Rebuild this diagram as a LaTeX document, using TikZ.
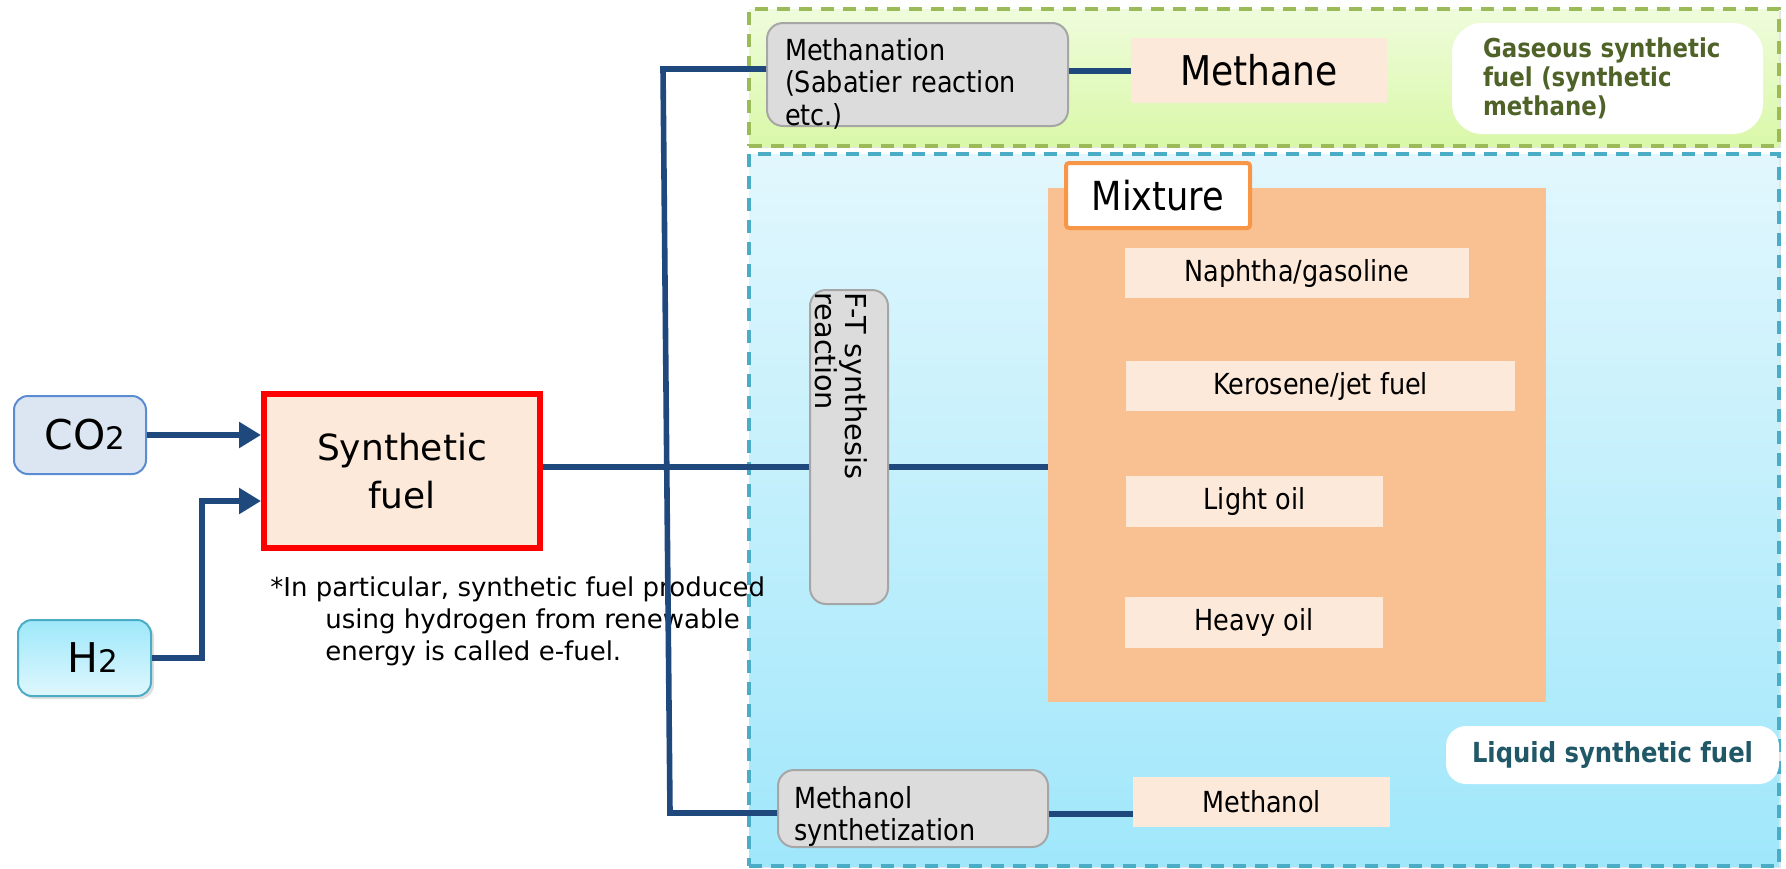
\documentclass[tikz,border=0pt]{standalone}
\usepackage{fontspec}
\setmainfont{DejaVu Sans}
\newfontfamily\cond{DejaVu Sans}[FakeStretch=0.88]
\usetikzlibrary{arrows.meta,shadows}
\definecolor{conn}{HTML}{1F497D}
\definecolor{cotwofill}{HTML}{DCE6F2}
\definecolor{cotwoline}{HTML}{5B8BD0}
\definecolor{htop}{HTML}{9EE8FA}
\definecolor{hbot}{HTML}{DFF7FD}
\definecolor{hline}{HTML}{4BACC6}
\definecolor{peach}{HTML}{FDE9D9}
\definecolor{mixbg}{HTML}{F9C091}
\definecolor{mixline}{HTML}{F79646}
\definecolor{procfill}{HTML}{DCDCDC}
\definecolor{procline}{HTML}{A6A6A6}
\definecolor{gline}{HTML}{9BBB59}
\definecolor{gtop}{HTML}{EFFCDC}
\definecolor{gbot}{HTML}{D9F8A8}
\definecolor{bline}{HTML}{4BACC6}
\definecolor{btop}{HTML}{E2F7FD}
\definecolor{bbot}{HTML}{A0E7FB}
\definecolor{gtext}{HTML}{4F6228}
\definecolor{btext}{HTML}{215868}
\tikzset{
  connector/.style={draw=conn, line width=2.8pt},
  arrowed/.style={connector, -{Triangle[length=11pt,width=12.5pt]}},
  region/.style={draw, dash pattern=on 6.5pt off 4.5pt, inner sep=0pt,
    drop shadow={opacity=0.2, shadow xshift=1.2pt, shadow yshift=-1.2pt}},
  procbox/.style={draw=procline, fill=procfill, line width=1pt, rounded corners=8pt, inner sep=0pt},
  proctext/.style={inner sep=0pt, align=left, font=\cond\fontsize{14.5}{16.25}\selectfont},
  product/.style={fill=peach, inner sep=0pt, font=\cond\fontsize{14.5}{16}\selectfont},
  labelbox/.style={fill=white, inner sep=0pt, font=\cond\bfseries\fontsize{13}{14.5}\selectfont},
}
\begin{document}
\begin{tikzpicture}[x=0.5pt,y=-0.5pt]
\useasboundingbox (0,0) rectangle (1786,868);
\fill[white] (0,0) rectangle (1786,868);

% regions
\node[region, draw=gline, line width=2pt, top color=gtop, bottom color=gbot,
  minimum width=515pt, minimum height=68.5pt] (gas) at (1264,77.5) {};
\node[region, draw=bline, line width=1.7pt, top color=btop, bottom color=bbot,
  minimum width=515pt, minimum height=356pt] (liq) at (1264,510) {};

% mixture
\node[fill=mixbg, inner sep=0pt, minimum width=249pt, minimum height=257pt] (mix) at (1297,445) {};
\node[draw=mixline, line width=2pt, fill=white, rounded corners=1.5pt, inner sep=0pt,
  minimum width=92pt, minimum height=32.5pt, font=\cond\fontsize{20}{22}\selectfont] (mixlabel) at (1158,195.5) {Mixture};
\node[product, minimum width=172pt, minimum height=25pt] (naph) at (1297,273) {Naphtha/gasoline};
\node[product, minimum width=194.5pt, minimum height=25pt] (kero) at (1320.5,386) {Kerosene/jet fuel};
\node[product, minimum width=128.5pt, minimum height=25.5pt] (light) at (1254.5,501.5) {Light oil};
\node[product, minimum width=129pt, minimum height=25.5pt] (heavy) at (1254,622.5) {Heavy oil};

% products
\node[product, minimum width=128pt, minimum height=32.5pt, font=\cond\fontsize{20.5}{22}\selectfont] (methane) at (1259,70.5) {Methane};
\node[product, minimum width=128.5pt, minimum height=25pt] (meoh) at (1261.5,802) {Methanol};

% labels
\node[labelbox, rounded corners=15pt, text=gtext, align=left, text width=124.5pt,
  minimum height=55.5pt, inner xsep=15.5pt] (gaslabel) at (1607.5,78.5)
  {\raisebox{-3pt}{\parbox{124.5pt}{Gaseous synthetic\\fuel (synthetic\\methane)}}};
\node[labelbox, rounded corners=10pt, text=btext, minimum width=166.5pt, minimum height=29pt,
  font=\cond\bfseries\fontsize{13.8}{15}\selectfont] (liqlabel) at (1612.5,755) {Liquid synthetic fuel};

% inputs
\node[draw=cotwoline, fill=cotwofill, line width=1pt, rounded corners=7pt, inner sep=0pt,
  minimum width=66pt, minimum height=39pt, font=\fontsize{20.5}{22}\selectfont] (co2) at (80,435)
  {\hspace*{5pt}CO{\fontsize{15.5}{15.5}\selectfont 2}};
\node[draw=hline, top color=htop, bottom color=hbot, line width=1pt, rounded corners=7pt, inner sep=0pt,
  minimum width=66.5pt, minimum height=38pt, font=\fontsize{20.5}{22}\selectfont,
  drop shadow={opacity=0.25, shadow xshift=1.5pt, shadow yshift=-1.5pt}] (h2) at (84.5,658)
  {\hspace*{8pt}H{\fontsize{15.5}{15.5}\selectfont 2}};
\node[draw=red, fill=peach, line width=3pt, inner sep=0pt, align=center,
  minimum width=138pt, minimum height=77pt, font=\fontsize{18}{24}\selectfont] (synth) at (402,471)
  {\raisebox{-2pt}{\parbox{130pt}{\centering Synthetic\\fuel}}};

% note
\node[anchor=north west, inner sep=0pt, align=left, font=\fontsize{13}{16}\selectfont] (note) at (270,576)
  {*In particular, synthetic fuel produced\\
   \hspace*{27.5pt}using hydrogen from renewable\\
   \hspace*{27.5pt}energy is called e-fuel.};

% process boxes
\node[procbox, minimum width=150.5pt, minimum height=51.5pt] (meth) at (917.5,74.5) {};
\node[proctext, text width=132.5pt, yshift=-4.5pt] (methtext) at (meth.center)
  {Methanation\\(Sabatier reaction\\etc.)};
\node[procbox, minimum width=135pt, minimum height=38.5pt] (msyn) at (913,808.5) {};
\node[proctext, text width=119pt, yshift=-4pt] (msyntext) at (msyn.center)
  {Methanol\\synthetization};

% connectors
\coordinate (tTop) at (663,69);
\coordinate (tBot) at (670,813);
\coordinate (hbend) at (202,501);
\coordinate (mainy) at (0,467);
\coordinate (methy) at (0,71);
\coordinate (mline) at (0,814);
\draw[arrowed] (co2.east) -- (co2.east -| synth.west);
\draw[arrowed] (h2.east) -| (hbend) -- (hbend -| synth.west);
\draw[connector] (synth.east |- mainy) -- (mainy -| mix.west);
\draw[connector] (meth.west |- tTop) -- (tTop) -- (tBot) -- (tBot -| msyn.west);
\draw[connector] (meth.east |- methy) -- (methy -| methane.west);
\draw[connector] (msyn.east |- mline) -- (mline -| meoh.west);

% FT box on top of line
\node[draw=procline, fill=procfill, line width=1pt, rounded corners=8pt, inner sep=0pt,
  minimum width=39pt, minimum height=157pt] (ft) at (849,447) {};
\node[rotate=-90, anchor=north west, inner sep=0pt, align=left,
  font=\fontsize{14.4}{15}\selectfont] (fttext) at (868,292) {F-T synthesis\\reaction};
\end{tikzpicture}
\end{document}
